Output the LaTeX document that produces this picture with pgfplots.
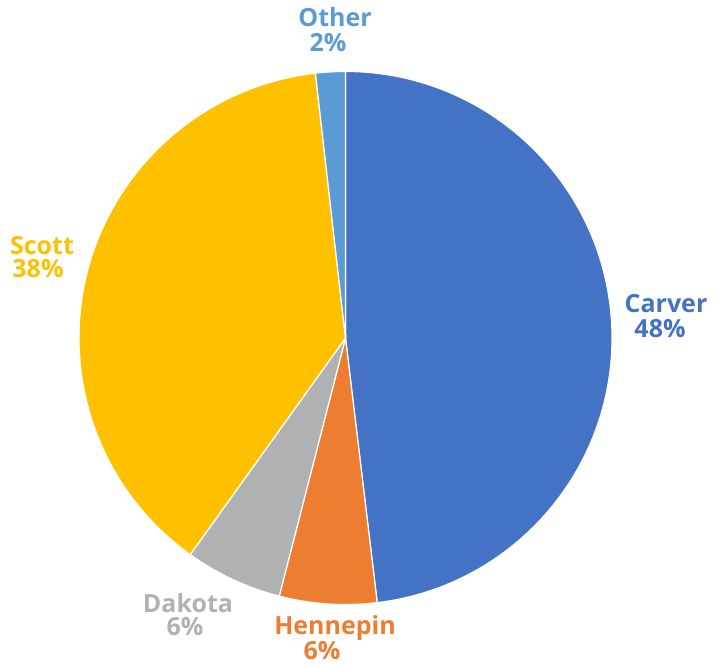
\documentclass[border=0pt]{standalone}
\usepackage{pgfplots}
\pgfplotsset{compat=1.18}
\usepackage{fontspec}
\setmainfont{Open Sans}
\definecolor{carver}{HTML}{4472C4}
\definecolor{hennepin}{HTML}{ED7D31}
\definecolor{dakota}{HTML}{B0B1B3}
\definecolor{scott}{HTML}{FFC000}
\definecolor{other}{HTML}{5B9BD5}
% shares in percent
\def\vCarver{48.1}
\def\vHennepin{5.9}
\def\vDakota{5.9}
\def\vScott{38.3}
\def\vOther{1.8}
\pgfmathsetmacro\aA{90}
\pgfmathsetmacro\aB{\aA-3.6*\vCarver}
\pgfmathsetmacro\aC{\aB-3.6*\vHennepin}
\pgfmathsetmacro\aD{\aC-3.6*\vDakota}
\pgfmathsetmacro\aE{\aD-3.6*\vScott}
\pgfmathsetmacro\aF{\aE-3.6*\vOther}
\begin{document}
\begin{tikzpicture}
\begin{axis}[hide axis, x=1pt, y=1pt, xmin=0, xmax=725, ymin=0, ymax=664,
  clip=false, axis line style={draw=none}]
\path (axis cs:0,0) rectangle (axis cs:725,664);
\def\cx{345.5}\def\cy{326}\def\r{266.5pt}
\filldraw[fill=carver, draw=white, line width=1.2pt] (axis cs:\cx,\cy) -- ++(\aA:\r) arc[start angle=\aA, end angle=\aB, radius=\r] -- cycle;
\filldraw[fill=hennepin, draw=white, line width=1.2pt] (axis cs:\cx,\cy) -- ++(\aB:\r) arc[start angle=\aB, end angle=\aC, radius=\r] -- cycle;
\filldraw[fill=dakota, draw=white, line width=1.2pt] (axis cs:\cx,\cy) -- ++(\aC:\r) arc[start angle=\aC, end angle=\aD, radius=\r] -- cycle;
\filldraw[fill=scott, draw=white, line width=1.2pt] (axis cs:\cx,\cy) -- ++(\aD:\r) arc[start angle=\aD, end angle=\aE, radius=\r] -- cycle;
\filldraw[fill=other, draw=white, line width=1.2pt] (axis cs:\cx,\cy) -- ++(\aE:\r) arc[start angle=\aE, end angle=\aF, radius=\r] -- cycle;
\tikzset{lab/.style={anchor=base, inner sep=0pt, font=\fontsize{25}{27}\selectfont\bfseries}}
\node[lab, text=carver] at (axis cs:666,351) {Carver};
\node[lab, text=carver] at (axis cs:660,326) {48\%};
\node[lab, text=scott] at (axis cs:42,409) {Scott};
\node[lab, text=scott] at (axis cs:38,386) {38\%};
\node[lab, text=other] at (axis cs:335,637) {Other};
\node[lab, text=other] at (axis cs:328,612) {2\%};
\node[lab, text=dakota] at (axis cs:188,52) {Dakota};
\node[lab, text=dakota] at (axis cs:185,29) {6\%};
\node[lab, text=hennepin] at (axis cs:335,30) {Hennepin};
\node[lab, text=hennepin] at (axis cs:322,5) {6\%};
\end{axis}
\end{tikzpicture}
\end{document}
